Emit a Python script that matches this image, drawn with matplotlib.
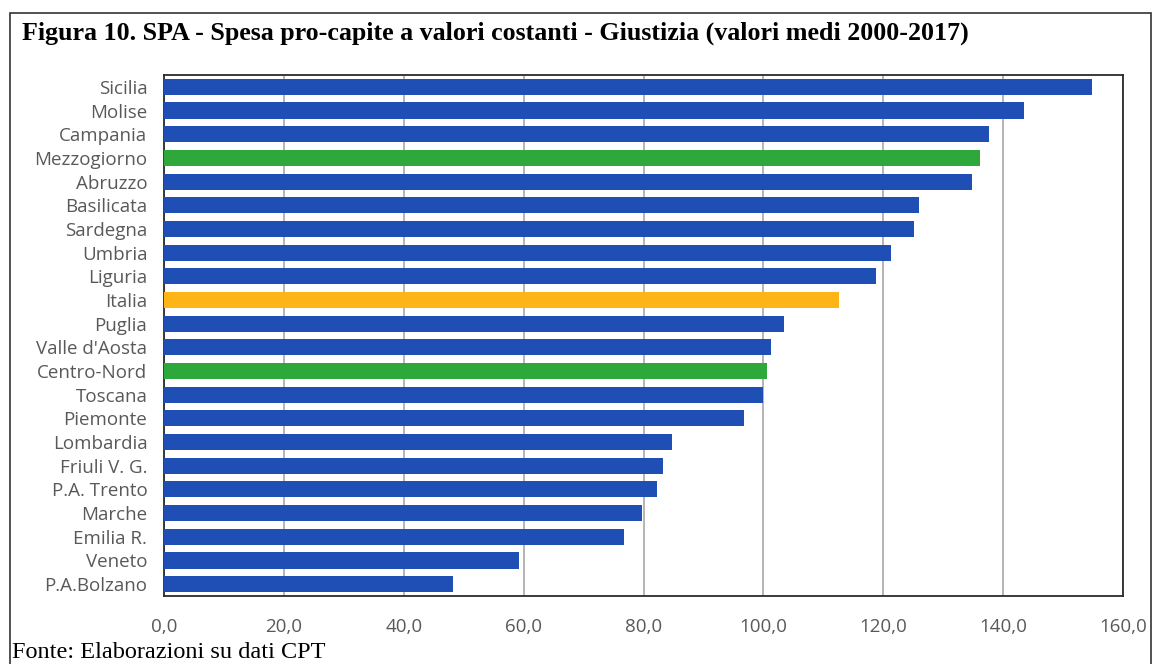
import matplotlib.pyplot as plt
from matplotlib.patches import Rectangle

# valori medi 2000-2017, euro pro-capite a valori costanti
regioni = ['Sicilia', 'Molise', 'Campania', 'Mezzogiorno', 'Abruzzo', 'Basilicata',
           'Sardegna', 'Umbria', 'Liguria', 'Italia', 'Puglia', "Valle d'Aosta",
           'Centro-Nord', 'Toscana', 'Piemonte', 'Lombardia', 'Friuli V. G.',
           'P.A. Trento', 'Marche', 'Emilia R.', 'Veneto', 'P.A.Bolzano']
spesa = [154.8, 143.5, 137.7, 136.2, 134.8, 126.0,
         125.2, 121.3, 118.8, 112.7, 103.5, 101.3,
         100.6, 100.0, 96.7, 84.8, 83.3,
         82.2, 79.8, 76.7, 59.3, 48.2]
xticks = [0, 20, 40, 60, 80, 100, 120, 140, 160]

BLU = '#1f4eb4'
VERDE = '#2ea83a'
ARANCIO = '#fdb416'
colori = []
for r in regioni:
    if r in ('Mezzogiorno', 'Centro-Nord'):
        colori.append(VERDE)
    elif r == 'Italia':
        colori.append(ARANCIO)
    else:
        colori.append(BLU)

fig = plt.figure(figsize=(11.53, 6.64), dpi=100)

# cornice esterna
fig.patches.append(Rectangle((10 / 1153, -0.01), 1141 / 1153, 1 - 13 / 664 + 0.01,
                             transform=fig.transFigure, fill=False,
                             edgecolor='#333333', linewidth=1.2))

fig.text(22 / 1153, 1 - 33 / 664,
         'Figura 10. SPA - Spesa pro-capite a valori costanti - Giustizia (valori medi 2000-2017)',
         family='Liberation Serif', weight='bold', fontsize=18.7, va='center', ha='left')
fig.text(12 / 1153, 1 - 653 / 664, 'Fonte: Elaborazioni su dati CPT',
         family='Liberation Serif', fontsize=17.5, va='center', ha='left')

ax = fig.add_axes([164 / 1153, 1 - 596 / 664, (1123 - 164) / 1153, (596 - 75) / 664])
pos = list(range(len(regioni)))
ax.barh(pos, spesa, height=0.68, color=colori, zorder=3)
ax.set_ylim(len(regioni) - 0.5, -0.5)
ax.set_xlim(0, 160)
ax.set_xticks(xticks)
ax.set_xticklabels([f'{v:.1f}'.replace('.', ',') for v in xticks])
ax.set_yticks(pos)
ax.set_yticklabels(regioni)
ax.grid(axis='x', color='#a8a8a8', linewidth=1.2, zorder=0)
ax.tick_params(length=0, labelsize=13.5, labelcolor='#595959', pad=12)
ax.tick_params(axis='x', pad=16)
for lab in ax.get_xticklabels() + ax.get_yticklabels():
    lab.set_family('Open Sans')
for s in ax.spines.values():
    s.set_color('#2b2b2b')
    s.set_linewidth(1.3)

fig.savefig('out.png', dpi=100)
